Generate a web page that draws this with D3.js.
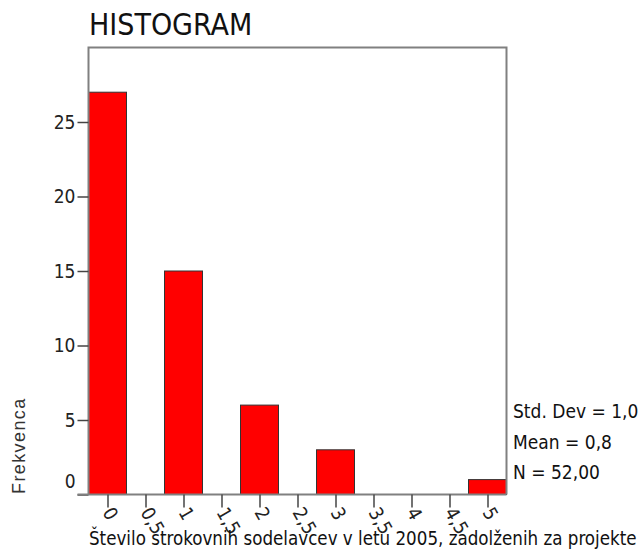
<!DOCTYPE html>
<html>
<head>
<meta charset="utf-8">
<script src="https://cdn.jsdelivr.net/npm/d3@7"></script>
<style>
  html, body { margin: 0; padding: 0; background: #fff; overflow: hidden; }
  svg { display: block; }
  .cond { font-family: "DejaVu Sans Condensed", "DejaVu Sans", sans-serif; font-stretch: condensed; }
</style>
</head>
<body>
<script>
// Data
const binCenters = [0, 1, 2, 3, 4, 5];
const frequencies = [27, 15, 6, 3, 0, 1];
const xTickValues = [0, 0.5, 1, 1.5, 2, 2.5, 3, 3.5, 4, 4.5, 5];
const yTickValues = [0, 5, 10, 15, 20, 25];
const statsLines = ["Std. Dev = 1,07", "Mean = 0,8", "N = 52,00"];
const chartTitle = "HISTOGRAM";
const xTitle = "Število strokovnih sodelavcev v letu 2005, zadolženih za projekte";
const yTitle = "Frekvenca";

(function () {
const W = 639, H = 552;
const svg = d3.select("body").append("svg").attr("width", W).attr("height", H);

const pLeft = 88.5, pRight = 506.5, pTop = 47.5, pBottom = 494.5;
const x = d3.scaleLinear().domain([-0.25, 5.25]).range([pLeft, pRight]);
const y = d3.scaleLinear().domain([0, 30]).range([pBottom, pTop]);
const binW = 0.5;

// Bars
svg.append("g").selectAll("rect")
  .data(binCenters.map((c, i) => ({c, f: frequencies[i]})).filter(d => d.f > 0))
  .join("rect")
  .attr("x", d => x(d.c - binW / 2))
  .attr("y", d => y(d.f))
  .attr("width", d => x(d.c + binW / 2) - x(d.c - binW / 2))
  .attr("height", d => y(0) - y(d.f))
  .attr("fill", "#ff0000")
  .attr("stroke", "#333")
  .attr("stroke-width", 1);

// Frame (left, top, right)
svg.append("path")
  .attr("d", `M${pLeft},${pBottom} V${pTop} H${pRight} V${pBottom}`)
  .attr("fill", "none").attr("stroke", "#808080").attr("stroke-width", 2);

// Y axis
const yAxis = svg.append("g").attr("class", "cond")
  .attr("transform", `translate(${pLeft},0)`)
  .call(d3.axisLeft(y).tickValues(yTickValues).tickSize(11).tickPadding(2).tickFormat(d3.format("d")));
yAxis.select(".domain").remove();
yAxis.attr("font-family", null);
yAxis.selectAll(".tick line").attr("stroke", "#444").attr("stroke-width", 1.5);
yAxis.selectAll(".tick text")
  .attr("font-size", 19).attr("fill", "#222")
  .attr("dy", d => d === 0 ? "-0.35em" : "0.32em");

// Baseline
svg.append("line")
  .attr("x1", pLeft - 11).attr("x2", pRight)
  .attr("y1", pBottom).attr("y2", pBottom)
  .attr("stroke", "#808080").attr("stroke-width", 2);

// X axis
const xAxis = svg.append("g").attr("class", "cond")
  .attr("transform", `translate(0,${pBottom})`)
  .call(d3.axisBottom(x).tickValues(xTickValues).tickSize(13).tickFormat(d => String(d).replace(".", ",")));
xAxis.select(".domain").remove();
xAxis.attr("font-family", null);
xAxis.selectAll(".tick line").attr("stroke", "#444").attr("stroke-width", 1.5);
xAxis.selectAll(".tick text")
  .attr("font-size", 19).attr("fill", "#222")
  .attr("text-anchor", "start")
  .attr("x", 0).attr("y", 0).attr("dy", "0.3em")
  .attr("transform", "translate(-1,15) rotate(60)");

// Title
svg.append("text").attr("class", "cond")
  .attr("x", 89).attr("y", 35)
  .attr("font-size", 30).attr("fill", "#111")
  .text(chartTitle);

// X title
svg.append("text").attr("class", "cond")
  .attr("x", 89).attr("y", 545)
  .attr("font-size", 18.6).attr("fill", "#111")
  .text(xTitle);

// Y title
svg.append("text")
  .attr("transform", "translate(25,494) rotate(-90)")
  .attr("font-family", "Liberation Sans, Arial, sans-serif")
  .attr("font-size", 18).attr("letter-spacing", 1.4).attr("fill", "#333")
  .text(yTitle);

// Stats
svg.append("g").attr("class", "cond").selectAll("text")
  .data(statsLines).join("text")
  .attr("x", 513)
  .attr("y", (d, i) => 418 + i * 30.5)
  .attr("font-size", 19).attr("fill", "#111")
  .text(d => d);
})();
</script>
</body>
</html>
